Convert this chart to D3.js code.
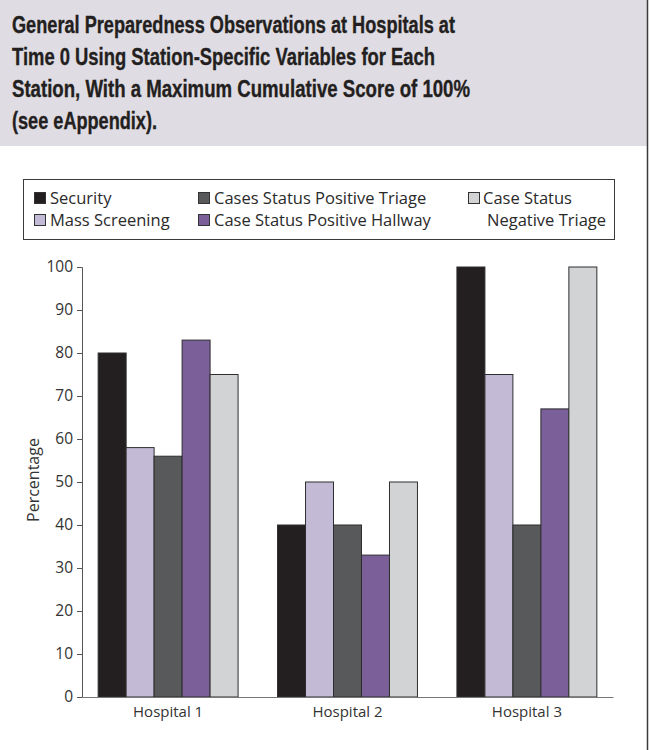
<!DOCTYPE html>
<html>
<head>
<meta charset="utf-8">
<script src="https://cdn.jsdelivr.net/npm/d3@7"></script>
<style>
  html, body { margin: 0; padding: 0; background: #fff; }
  svg { display: block; }
</style>
</head>
<body>
<script>
// Hospitals (x groups)
const hospitals = ["Hospital 1", "Hospital 2", "Hospital 3"];
// Stations (series)
const stations = [
  "Security",
  "Mass Screening",
  "Cases Status Positive Triage",
  "Case Status Positive Hallway",
  "Case Status Negative Triage"
];
const stationColors = ["#231f20", "#c3bbd6", "#58595b", "#7a5f98", "#d1d3d4"];
// Percentage per station, one array per station, ordered by hospital
const security = [80, 40, 100];
const massScreening = [58, 50, 75];
const positiveTriage = [56, 40, 40];
const positiveHallway = [83, 33, 67];
const negativeTriage = [75, 50, 100];
const yTicks = [0, 10, 20, 30, 40, 50, 60, 70, 80, 90, 100];
const titleLines = [
  "General Preparedness Observations at Hospitals at",
  "Time 0 Using Station-Specific Variables for Each",
  "Station, With a Maximum Cumulative Score of 100%",
  "(see eAppendix)."
];
// Set widths for the condensed title lines
const titleWidths = [443, 423, 458, 145];

const seriesValues = [security, massScreening, positiveTriage, positiveHallway, negativeTriage];

const W = 650, H = 750;
const svg = d3.select("body").append("svg").attr("width", W).attr("height", H);

// Title panel
svg.append("rect").attr("x", 0).attr("y", 0).attr("width", 647).attr("height", 146).attr("fill", "#e0dce3");
svg.append("line").attr("x1", 647.5).attr("x2", 647.5).attr("y1", 0).attr("y2", H)
  .attr("stroke", "#3a3a3a").attr("stroke-width", 1.5);

const title = svg.append("g")
  .attr("font-family", "'Liberation Sans', Arial, sans-serif")
  .attr("font-weight", "bold").attr("font-size", 23).attr("fill", "#231f20")
  .attr("stroke", "#231f20").attr("stroke-width", 0.35);
titleLines.forEach((t, i) => {
  title.append("text").attr("x", 12).attr("y", 33 + i * 32)
    .attr("textLength", titleWidths[i]).attr("lengthAdjust", "spacingAndGlyphs")
    .text(t);
});

// Legend
const legendFont = "'Open Sans', 'Noto Sans', sans-serif";
svg.append("rect").attr("x", 23.5).attr("y", 179.5).attr("width", 591).attr("height", 60)
  .attr("fill", "#fff").attr("stroke", "#3a3a3a").attr("stroke-width", 1);
const legendPos = [
  { x: 34, y: 204 }, { x: 34, y: 226 },
  { x: 198, y: 204 }, { x: 198, y: 226 },
  { x: 468, y: 204 }
];
const legend = svg.append("g").attr("font-family", legendFont).attr("font-size", 16.5).attr("fill", "#2a2a2a");
stations.forEach((s, i) => {
  const p = legendPos[i];
  legend.append("rect").attr("x", p.x + 0.5).attr("y", p.y - 11.5).attr("width", 11).attr("height", 11)
    .attr("fill", stationColors[i]).attr("stroke", "#333").attr("stroke-width", 1);
  if (i === 4) {
    legend.append("text").attr("x", p.x + 15).attr("y", p.y).text("Case Status");
    legend.append("text").attr("x", p.x + 19).attr("y", p.y + 22).text("Negative Triage");
  } else {
    legend.append("text").attr("x", p.x + 16).attr("y", p.y).text(s);
  }
});

// Plot area
const plotLeft = 82, plotRight = 613, plotTop = 267, plotBottom = 697;
const x0 = d3.scaleBand().domain(hospitals).range([plotLeft, plotRight]).paddingInner(0.22).paddingOuter(0.09);
const x1 = d3.scaleBand().domain(stations).range([0, x0.bandwidth()]);
const y = d3.scaleLinear().domain([0, 100]).range([plotBottom, plotTop]);

const groups = svg.append("g").selectAll("g").data(hospitals).join("g")
  .attr("transform", d => `translate(${x0(d)},0)`);
groups.selectAll("rect")
  .data((h, hi) => stations.map((s, si) => ({ s, si, v: seriesValues[si][hi] })))
  .join("rect")
  .attr("x", d => x1(d.s))
  .attr("y", d => y(d.v))
  .attr("width", x1.bandwidth())
  .attr("height", d => y(0) - y(d.v))
  .attr("fill", d => stationColors[d.si])
  .attr("stroke", "#2e2e2e")
  .attr("stroke-width", 1);

// Y axis
const yAxis = svg.append("g").attr("transform", `translate(${plotLeft},0)`)
  .call(d3.axisLeft(y).tickValues(yTicks).tickSize(5).tickPadding(4));
yAxis.select(".domain").attr("stroke", "#555");
yAxis.selectAll(".tick line").attr("stroke", "#555");
yAxis.selectAll("text").attr("font-family", legendFont).attr("font-size", 15.5).attr("fill", "#333");

// X axis
const xAxis = svg.append("g").attr("transform", `translate(0,${plotBottom})`)
  .call(d3.axisBottom(x0).tickSize(0).tickPadding(9));
xAxis.select(".domain").attr("stroke", "#777").attr("stroke-width", 1.2);
xAxis.selectAll("text").attr("font-family", legendFont).attr("font-size", 15).attr("fill", "#333");

// Y label
svg.append("text")
  .attr("transform", `translate(39,${(plotTop + plotBottom) / 2 - 2}) rotate(-90)`)
  .attr("text-anchor", "middle")
  .attr("font-family", legendFont).attr("font-size", 16).attr("fill", "#333")
  .text("Percentage");
</script>
</body>
</html>
